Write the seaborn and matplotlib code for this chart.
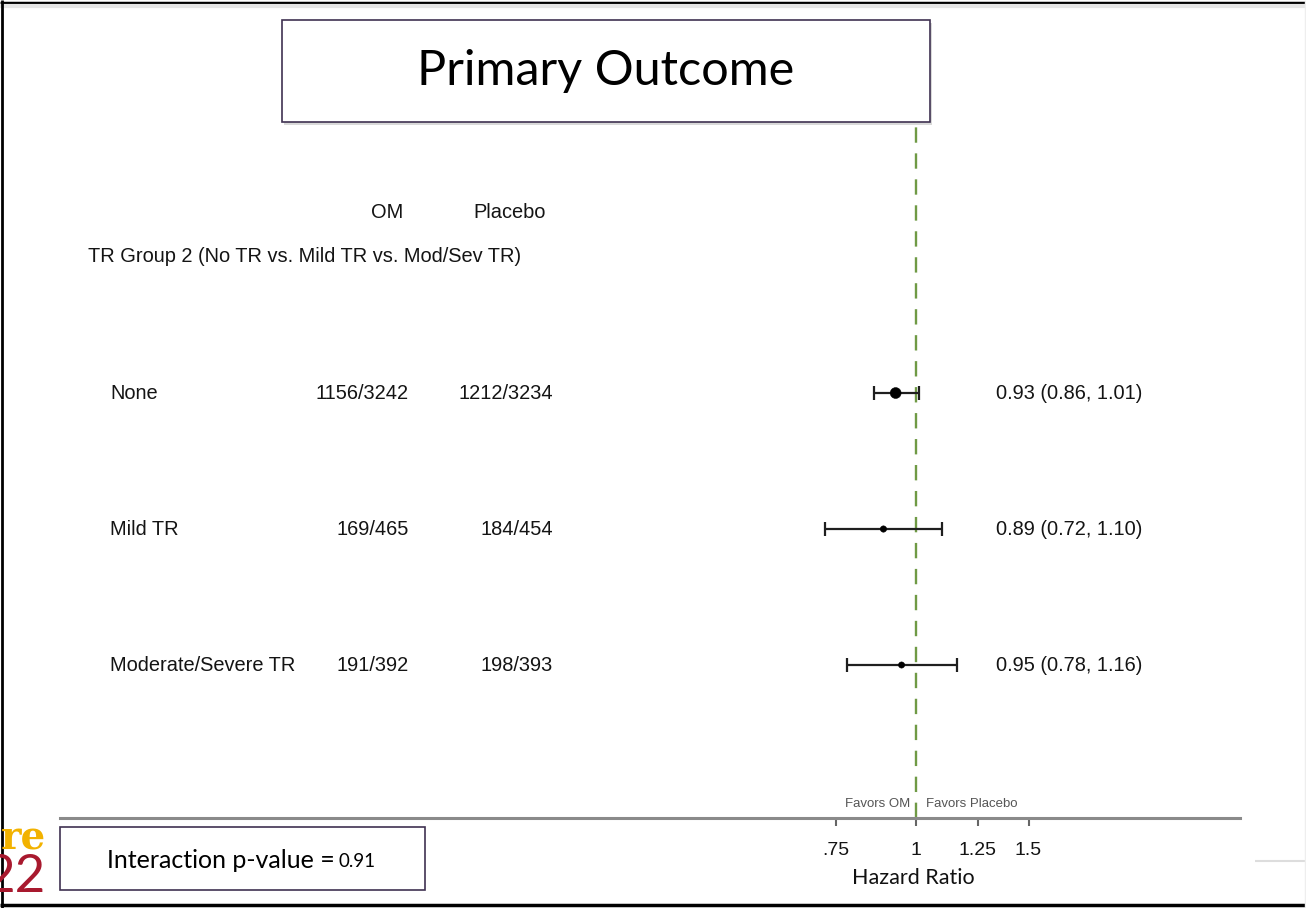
import numpy as np
import pandas as pd
import matplotlib
matplotlib.use("Agg")
import matplotlib.pyplot as plt
import matplotlib.transforms as mtransforms
from matplotlib.patches import Rectangle
import seaborn as sns

# Subgroup data
groups = ["None", "Mild TR", "Moderate/Severe TR"]
om_events = [1156, 169, 191]
om_total = [3242, 465, 392]
pbo_events = [1212, 184, 198]
pbo_total = [3234, 454, 393]
hr = [0.93, 0.89, 0.95]
ci_low = [0.86, 0.72, 0.78]
ci_high = [1.01, 1.10, 1.16]
tick_values = [0.75, 1.0, 1.25, 1.5]
tick_labels = [".75", "1", "1.25", "1.5"]
interaction_p = "0.91"

df = pd.DataFrame({
    "group": groups,
    "row": np.arange(len(groups)),
    "hr": hr,
    "lo": ci_low,
    "hi": ci_high,
    "n": np.array(om_total) + np.array(pbo_total),
})

sns.set_theme(style="white")
ARIAL = ["Liberation Sans", "DejaVu Sans"]
CAL = ["Lato", "DejaVu Sans"]
plt.rcParams["font.family"] = ARIAL

TXT = 14.4
INK = "#141414"

W, H = 1306, 908
fig = plt.figure(figsize=(W / 100, H / 100), dpi=100)

# Full-figure overlay in pixel units for boxes and free text
over = fig.add_axes([0, 0, 1, 1])
over.set_xlim(0, W)
over.set_ylim(H, 0)
over.axis("off")

# Forest plot axes (log hazard-ratio scale)
x0, x1, ytop, ybot = 60, 1240, 122, 818
ax = fig.add_axes([x0 / W, 1 - ybot / H, (x1 - x0) / W, (ybot - ytop) / H])
ax.patch.set_alpha(0)
ax.set_xscale("log")
ax.set_xlim(0.046, 3.21)
ax.set_ylim(3.125, -1.993)

ax.axvline(1.0, color="#6f9a45", lw=1.7, ls=(0, (6.5, 4.5)), zorder=1)

ax.errorbar(df["hr"], df["row"],
            xerr=[df["hr"] - df["lo"], df["hi"] - df["hr"]],
            fmt="none", ecolor="#1f1f1f", elinewidth=1.6, capsize=5, capthick=1.6, zorder=2)
sns.scatterplot(data=df, x="hr", y="row", size="n", sizes=(20, 62),
                color="black", edgecolor="black", legend=False, ax=ax, zorder=3)

ax.set_xticks(tick_values)
ax.set_xticklabels(tick_labels)
ax.xaxis.set_minor_locator(matplotlib.ticker.NullLocator())
ax.set_yticks([])
ax.set_xlabel("")
ax.set_ylabel("")
for s in ["top", "left", "right"]:
    ax.spines[s].set_visible(False)
ax.spines["bottom"].set_color("#8a8a8a")
ax.spines["bottom"].set_linewidth(2.2)
ax.tick_params(axis="x", bottom=True, direction="out", length=6, width=1.5, color="#666666",
               pad=11, labelsize=14, labelcolor=INK)
for t in ax.get_xticklabels():
    t.set_fontfamily(ARIAL)

# Text columns aligned with the rows
tr = mtransforms.blended_transform_factory(over.transData, ax.transData)
for i in range(len(groups)):
    ax.text(110, i, groups[i], transform=tr, ha="left", va="center", fontsize=TXT, color=INK)
    ax.text(409, i, f"{om_events[i]}/{om_total[i]}", transform=tr, ha="right", va="center",
            fontsize=TXT, color=INK)
    ax.text(553, i, f"{pbo_events[i]}/{pbo_total[i]}", transform=tr, ha="right", va="center",
            fontsize=TXT, color=INK)
    ax.text(996, i, f"{hr[i]:.2f} ({ci_low[i]:.2f}, {ci_high[i]:.2f})", transform=tr,
            ha="left", va="center", fontsize=TXT, color=INK)

over.text(387, 213, "OM", ha="center", va="center", fontsize=TXT, color=INK)
over.text(510, 213, "Placebo", ha="center", va="center", fontsize=TXT, color=INK)
over.text(88, 257, "TR Group 2 (No TR vs. Mild TR vs. Mod/Sev TR)", ha="left", va="center",
          fontsize=TXT, color=INK)

over.text(910, 804, "Favors OM", ha="right", va="center", fontsize=9.5, color="#555555")
over.text(926, 804, "Favors Placebo", ha="left", va="center", fontsize=9.5, color="#555555")
over.text(913, 878, "Hazard Ratio", ha="center", va="center", fontsize=15.5, color="#111111",
          family=CAL)

# Title box
over.add_patch(Rectangle((284, 23), 648, 102, facecolor="#d9d9d9", edgecolor="none", zorder=1))
over.add_patch(Rectangle((282, 20), 648, 102, facecolor="white", edgecolor="#3f3151", lw=1.2, zorder=2))
over.text(606, 71, "Primary Outcome", ha="center", va="center", fontsize=35, color="black",
          family=CAL, zorder=3)

# Interaction box
over.add_patch(Rectangle((60, 827), 365, 63, facecolor="white", edgecolor="#3f3151", lw=1.2, zorder=2))
t1 = over.text(107, 861, "Interaction p-value =", ha="left", va="center", fontsize=18,
               color="black", family=CAL, zorder=3)
over.annotate(interaction_p, xy=(1, 0), xycoords=t1, xytext=(3, 2), textcoords="offset points",
              ha="left", va="bottom", fontsize=13.5, color="black", family=CAL, zorder=3)

# Partial logo at the lower left
over.text(46, 838, "re", ha="right", va="center", fontsize=28, color="#f2b200",
          family=["DejaVu Serif"], fontweight="bold", zorder=3)
over.text(46, 878, "22", ha="right", va="center", fontsize=38, color="#a8192e",
          family=CAL, zorder=3)

# Frame lines
over.plot([0, W], [3, 3], color="black", lw=2.5, solid_capstyle="butt")
over.plot([0, W], [6, 6], color="#e6e6e6", lw=3, solid_capstyle="butt")
over.plot([2, 2], [0, H], color="black", lw=2, solid_capstyle="butt")
over.plot([0, W], [905, 905], color="black", lw=2.5, solid_capstyle="butt")
over.plot([1255, W], [861, 861], color="#dddddd", lw=1.5, solid_capstyle="butt")
over.plot([1305, 1305], [0, H], color="#eeeeee", lw=1, solid_capstyle="butt")

fig.savefig("out.png", dpi=100)
